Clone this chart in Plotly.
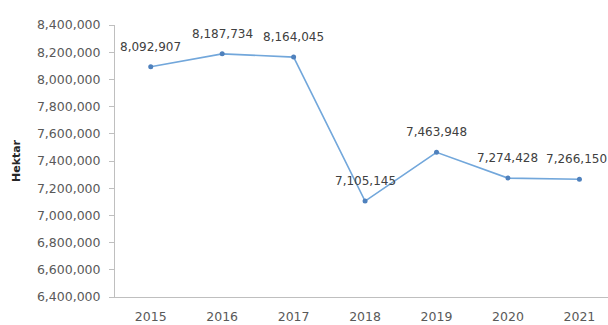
import plotly.graph_objects as go

years = ["2015", "2016", "2017", "2018", "2019", "2020", "2021"]
hektar = [8092907, 8187734, 8164045, 7105145, 7463948, 7274428, 7266150]
y_ticks = [6400000 + 200000 * i for i in range(11)]

FONT = "DejaVu Sans"

fig = go.Figure()
fig.add_trace(go.Scatter(
    x=list(range(len(years))),
    y=hektar,
    mode="lines+markers",
    line=dict(color="#72a7db", width=1.6),
    marker=dict(symbol="circle", size=5, color="#4f81bd"),
    hoverinfo="skip",
))

last = len(hektar) - 1
for i, v in enumerate(hektar):
    fig.add_annotation(
        x=i, y=v, text=f"{v:,}", showarrow=False,
        yanchor="bottom", yshift=11,
        # keep the right-most label inside the canvas
        xanchor="right" if i == last else "center",
        xshift=30 if i == last else 0,
        font=dict(family=FONT, size=12, color="#404040"),
    )

fig.update_layout(
    width=608, height=325,
    margin=dict(l=115, r=0, t=25, b=28),
    paper_bgcolor="white", plot_bgcolor="white",
    showlegend=False,
    font=dict(family=FONT, size=12, color="#595959"),
)
fig.update_xaxes(
    range=[-0.5, 6.4],
    tickmode="array",
    tickvals=list(range(len(years))),
    ticktext=years,
    showgrid=False, zeroline=False,
    showline=True, linecolor="#bfbfbf", linewidth=1,
    ticks="", ticklabelstandoff=8,
    tickfont=dict(size=12.5, color="#595959"),
)
fig.update_yaxes(
    range=[6400000, 8400000],
    tickmode="array",
    tickvals=y_ticks,
    ticktext=[f"{t:,}" for t in y_ticks],
    showgrid=False, zeroline=False,
    showline=True, linecolor="#bfbfbf", linewidth=1,
    ticks="outside", ticklen=5, tickcolor="#bfbfbf",
    ticklabelstandoff=6,
    tickfont=dict(size=12.5, color="#595959"),
    title=dict(text="<b>Hektar</b>", font=dict(size=11, color="#262626"), standoff=14),
)

fig.write_html("out.html")
